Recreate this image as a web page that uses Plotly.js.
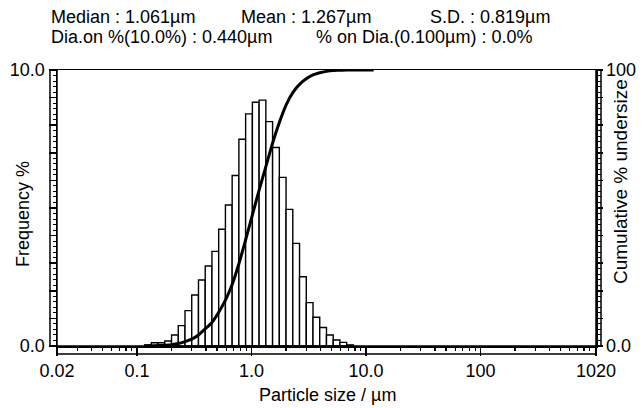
<!DOCTYPE html>
<html>
<head>
<meta charset="utf-8">
<script src="https://cdn.plot.ly/plotly-3.0.1.min.js"></script>
<style>html,body{margin:0;padding:0;background:#fff;}#chart{width:642px;height:408px;}</style>
</head>
<body>
<div id="chart"></div>
<script>
// Channel edges (µm) of the analyser (lower edge of first bar ... upper edges)
var edgeSizes = [0.11641, 0.13333, 0.15267, 0.17481, 0.20016, 0.22921, 0.26245, 0.30052,
  0.34411, 0.39403, 0.45118, 0.51663, 0.59157, 0.67738, 0.77563, 0.88814, 1.0175, 1.1651,
  1.3341, 1.5276, 1.7492, 2.0029, 2.2934, 2.6261, 3.0070, 3.4432, 3.9425, 4.5144, 5.1693,
  5.9191, 6.7777, 7.7607, 8.8864, 10.183, 11.661];
// Frequency % per channel (channel i spans edgeSizes[i] .. edgeSizes[i+1])
var frequency = [0.04, 0.12, 0.12, 0.18, 0.40, 0.74, 1.28, 1.85, 2.39, 2.90, 3.43, 4.23,
  5.11, 6.18, 7.49, 8.41, 8.83, 8.91, 8.13, 7.19, 6.11, 4.95, 3.72, 2.51, 1.57, 1.04, 0.67,
  0.40, 0.22, 0.13, 0.04];
// Cumulative % undersize at each channel edge
var cumulative = [0, 0.05, 0.15, 0.3, 0.5, 0.9, 1.6, 2.5, 4.0, 6.2, 8.5, 12.2, 16.6, 22.3,
  29.8, 38.5, 47.5, 56.5, 65.0, 73.5, 81.0, 87.3, 91.8, 94.8, 96.8, 98.2, 99.0, 99.5, 99.8,
  99.9, 100, 100, 100, 100, 100];

var xTickVals = [0.02, 0.1, 1, 10, 100, 1020];
var xTickText = ['0.02', '0.1', '1.0', '10.0', '100', '1020'];
var yTickVals = [0, 1, 2, 3, 4, 5, 6, 7, 8, 9, 10];
var yTickText = ['0.0', '', '', '', '', '', '', '', '', '', '10.0'];
var y2TickVals = [0, 10, 20, 30, 40, 50, 60, 70, 80, 90, 100];
var y2TickText = ['0.0', '', '', '', '', '', '', '', '', '', '100'];

var statsRow1 = ['Median : 1.061µm', 'Mean : 1.267µm', 'S.D. : 0.819µm'];
var statsRow2 = ['Dia.on %(10.0%) : 0.440µm', '% on Dia.(0.100µm) : 0.0%'];

// bars span exactly from lower to upper channel edge (bar width is linear on a log axis)
var barX = [], barW = [];
for (var i = 0; i < frequency.length; i++) {
  barX.push((edgeSizes[i] + edgeSizes[i + 1]) / 2);
  barW.push(edgeSizes[i + 1] - edgeSizes[i]);
}

var minorX = [];
[0.01, 0.1, 1, 10, 100].forEach(function (d) {
  for (var m = 2; m <= 9; m++) { var v = m * d; if (v > 0.02 && v < 1020) minorX.push(v); }
});

var W = 642, H = 408, ML = 57, MR = 46, MT = 70, MB = 62;
var PW = W - ML - MR, PH = H - MT - MB;
function px(x) { return (x - ML) / PW; }
function py(y) { return 1 - (y - MT) / PH; }

var font = { family: 'Liberation Sans, Arial, sans-serif', size: 18, color: '#000' };

var traces = [
  {
    type: 'bar', x: barX, y: frequency, width: barW, xaxis: 'x', yaxis: 'y',
    marker: { color: '#ffffff', line: { color: '#000', width: 1.4 } },
    hoverinfo: 'skip', showlegend: false
  },
  {
    type: 'scatter', mode: 'lines', x: edgeSizes, y: cumulative, xaxis: 'x', yaxis: 'y2',
    line: { color: '#000', width: 3, shape: 'spline', smoothing: 0.6 },
    hoverinfo: 'skip', showlegend: false
  }
];

var ann = [];
var row1X = [49, 239, 428];
statsRow1.forEach(function (t, i) {
  ann.push({ text: t, xref: 'paper', yref: 'paper', x: px(row1X[i]), y: py(17), xanchor: 'left', yanchor: 'middle', showarrow: false, font: font });
});
var row2X = [49, 314];
statsRow2.forEach(function (t, i) {
  ann.push({ text: t, xref: 'paper', yref: 'paper', x: px(row2X[i]), y: py(37), xanchor: 'left', yanchor: 'middle', showarrow: false, font: font });
});
ann.push({ text: 'Particle size / µm', xref: 'paper', yref: 'paper', x: px(327), y: py(395), xanchor: 'center', yanchor: 'middle', showarrow: false, font: font });
ann.push({ text: 'Frequency %', xref: 'paper', yref: 'paper', x: px(23), y: py(214), xanchor: 'center', yanchor: 'middle', textangle: -90, showarrow: false, font: font });
ann.push({ text: 'Cumulative % undersize', xref: 'paper', yref: 'paper', x: px(620), y: py(182), xanchor: 'center', yanchor: 'middle', textangle: -90, showarrow: false, font: { family: font.family, size: 19, color: '#000' } });

var shapes = [
  { type: 'rect', xref: 'paper', yref: 'paper', x0: px(50), x1: 0, y0: 0, y1: 1, line: { color: '#000', width: 1.5 } },
  { type: 'rect', xref: 'paper', yref: 'paper', x0: 1, x1: px(W - MR + 5), y0: 0, y1: 1, line: { color: '#000', width: 1.5 } },
  { type: 'rect', xref: 'paper', yref: 'paper', x0: 0, x1: 1, y0: py(MT + PH + 8), y1: 0, line: { color: '#000', width: 1.5 } }
];

var layout = {
  width: W, height: H,
  margin: { l: ML, r: MR, t: MT, b: MB, pad: 0 },
  paper_bgcolor: '#fff', plot_bgcolor: '#fff',
  font: font,
  bargap: 0,
  showlegend: false,
  xaxis: {
    type: 'log', range: [Math.log10(0.02), Math.log10(1020)],
    showline: true, linecolor: '#000', linewidth: 1.5, mirror: true,
    showgrid: false, zeroline: false,
    tickmode: 'array', tickvals: xTickVals, ticktext: xTickText,
    ticks: 'outside', ticklen: 8, tickwidth: 1.5, tickcolor: '#000',
    minor: { tickmode: 'array', tickvals: minorX, ticks: 'outside', ticklen: 3, tickwidth: 1.2, tickcolor: '#000', showgrid: false },
    tickfont: font, fixedrange: true
  },
  yaxis: {
    range: [0, 10], showline: true, linecolor: '#000', linewidth: 1.5,
    showgrid: false, zeroline: false,
    tickmode: 'array', tickvals: yTickVals, ticktext: yTickText,
    ticks: 'outside', ticklen: 7, tickwidth: 1.5, tickcolor: '#000',
    minor: { tickmode: 'linear', tick0: 0, dtick: 0.2, ticks: 'outside', ticklen: 3, tickwidth: 1, tickcolor: '#000', showgrid: false },
    tickfont: font, fixedrange: true
  },
  yaxis2: {
    range: [0, 100], overlaying: 'y', side: 'right', anchor: 'x',
    showline: true, linecolor: '#000', linewidth: 1.5,
    showgrid: false, zeroline: false,
    tickmode: 'array', tickvals: y2TickVals, ticktext: y2TickText,
    ticks: 'outside', ticklen: 5, tickwidth: 1.5, tickcolor: '#000',
    minor: { tickmode: 'linear', tick0: 0, dtick: 2, ticks: 'outside', ticklen: 3, tickwidth: 1, tickcolor: '#000', showgrid: false },
    tickfont: font, fixedrange: true
  },
  annotations: ann,
  shapes: shapes
};

Plotly.newPlot('chart', traces, layout, { staticPlot: true, displayModeBar: false });
</script>
</body>
</html>
